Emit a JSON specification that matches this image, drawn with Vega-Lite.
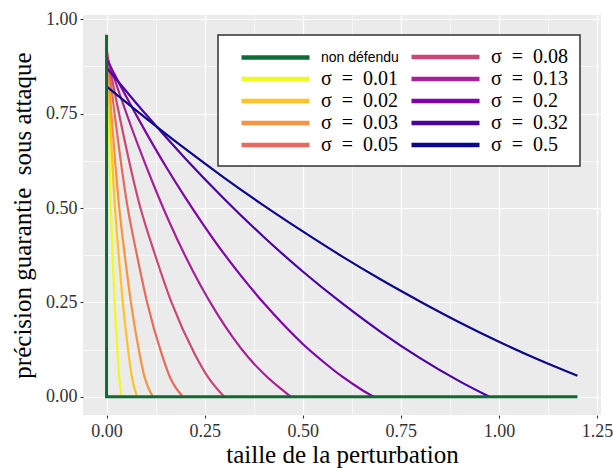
{
  "$schema": "https://vega.github.io/schema/vega-lite/v6.json",
  "width": 518,
  "height": 400,
  "autosize": {"type": "none"},
  "padding": {"left": 83, "top": 15, "right": 12, "bottom": 53},
  "background": "white",
  "config": {
    "view": {"fill": "#EBEBEB", "stroke": null},
    "axis": {
      "domain": false,
      "gridColor": "white",
      "tickColor": "#333333",
      "tickSize": 3,
      "tickWidth": 1.1,
      "labelFont": "Liberation Serif",
      "labelFontSize": 18,
      "labelColor": "#333333",
      "titleFont": "Liberation Serif",
      "titleFontSize": 25,
      "titleFontWeight": "normal",
      "titleColor": "black"
    }
  },
  "datasets": {
    "curves": [
      {"s": "σ = 0.01", "x": 0, "y": 0.94}, {"s": "σ = 0.01", "x": 0.0108, "y": 0.5}, {"s": "σ = 0.01", "x": 0.0155, "y": 0.375}, {"s": "σ = 0.01", "x": 0.0207, "y": 0.25}, {"s": "σ = 0.01", "x": 0.028, "y": 0.115}, {"s": "σ = 0.01", "x": 0.0325, "y": 0.05}, {"s": "σ = 0.01", "x": 0.038, "y": 0},
      {"s": "σ = 0.02", "x": 0, "y": 0.935}, {"s": "σ = 0.02", "x": 0.0216, "y": 0.5}, {"s": "σ = 0.02", "x": 0.031, "y": 0.375}, {"s": "σ = 0.02", "x": 0.0414, "y": 0.25}, {"s": "σ = 0.02", "x": 0.056, "y": 0.115}, {"s": "σ = 0.02", "x": 0.065, "y": 0.05}, {"s": "σ = 0.02", "x": 0.078, "y": 0},
      {"s": "σ = 0.03", "x": 0, "y": 0.93}, {"s": "σ = 0.03", "x": 0.0324, "y": 0.5}, {"s": "σ = 0.03", "x": 0.0465, "y": 0.375}, {"s": "σ = 0.03", "x": 0.0621, "y": 0.25}, {"s": "σ = 0.03", "x": 0.084, "y": 0.115}, {"s": "σ = 0.03", "x": 0.0975, "y": 0.05}, {"s": "σ = 0.03", "x": 0.118, "y": 0},
      {"s": "σ = 0.05", "x": 0, "y": 0.925}, {"s": "σ = 0.05", "x": 0.054, "y": 0.5}, {"s": "σ = 0.05", "x": 0.0775, "y": 0.375}, {"s": "σ = 0.05", "x": 0.1035, "y": 0.25}, {"s": "σ = 0.05", "x": 0.14, "y": 0.115}, {"s": "σ = 0.05", "x": 0.1625, "y": 0.05}, {"s": "σ = 0.05", "x": 0.195, "y": 0},
      {"s": "σ = 0.08", "x": 0, "y": 0.915}, {"s": "σ = 0.08", "x": 0.0864, "y": 0.5}, {"s": "σ = 0.08", "x": 0.124, "y": 0.375}, {"s": "σ = 0.08", "x": 0.1656, "y": 0.25}, {"s": "σ = 0.08", "x": 0.224, "y": 0.115}, {"s": "σ = 0.08", "x": 0.26, "y": 0.05}, {"s": "σ = 0.08", "x": 0.3, "y": 0},
      {"s": "σ = 0.13", "x": 0, "y": 0.905}, {"s": "σ = 0.13", "x": 0.04, "y": 0.782}, {"s": "σ = 0.13", "x": 0.08, "y": 0.667}, {"s": "σ = 0.13", "x": 0.12, "y": 0.561}, {"s": "σ = 0.13", "x": 0.16, "y": 0.463}, {"s": "σ = 0.13", "x": 0.2, "y": 0.374}, {"s": "σ = 0.13", "x": 0.24, "y": 0.294}, {"s": "σ = 0.13", "x": 0.28, "y": 0.223}, {"s": "σ = 0.13", "x": 0.32, "y": 0.16}, {"s": "σ = 0.13", "x": 0.36, "y": 0.106}, {"s": "σ = 0.13", "x": 0.4, "y": 0.062}, {"s": "σ = 0.13", "x": 0.44, "y": 0.025}, {"s": "σ = 0.13", "x": 0.47, "y": 0},
      {"s": "σ = 0.2", "x": 0, "y": 0.895}, {"s": "σ = 0.2", "x": 0.05, "y": 0.795}, {"s": "σ = 0.2", "x": 0.1, "y": 0.701}, {"s": "σ = 0.2", "x": 0.15, "y": 0.612}, {"s": "σ = 0.2", "x": 0.2, "y": 0.529}, {"s": "σ = 0.2", "x": 0.25, "y": 0.451}, {"s": "σ = 0.2", "x": 0.3, "y": 0.378}, {"s": "σ = 0.2", "x": 0.35, "y": 0.311}, {"s": "σ = 0.2", "x": 0.4, "y": 0.249}, {"s": "σ = 0.2", "x": 0.45, "y": 0.192}, {"s": "σ = 0.2", "x": 0.5, "y": 0.14}, {"s": "σ = 0.2", "x": 0.55, "y": 0.095}, {"s": "σ = 0.2", "x": 0.6, "y": 0.054}, {"s": "σ = 0.2", "x": 0.65, "y": 0.019}, {"s": "σ = 0.2", "x": 0.681, "y": 0},
      {"s": "σ = 0.32", "x": 0, "y": 0.872}, {"s": "σ = 0.32", "x": 0.1, "y": 0.748}, {"s": "σ = 0.32", "x": 0.2, "y": 0.632}, {"s": "σ = 0.32", "x": 0.3, "y": 0.524}, {"s": "σ = 0.32", "x": 0.4, "y": 0.424}, {"s": "σ = 0.32", "x": 0.5, "y": 0.332}, {"s": "σ = 0.32", "x": 0.6, "y": 0.248}, {"s": "σ = 0.32", "x": 0.7, "y": 0.171}, {"s": "σ = 0.32", "x": 0.8, "y": 0.102}, {"s": "σ = 0.32", "x": 0.9, "y": 0.041}, {"s": "σ = 0.32", "x": 0.976, "y": 0},
      {"s": "σ = 0.5", "x": 0, "y": 0.822}, {"s": "σ = 0.5", "x": 0.1, "y": 0.738}, {"s": "σ = 0.5", "x": 0.2, "y": 0.657}, {"s": "σ = 0.5", "x": 0.3, "y": 0.58}, {"s": "σ = 0.5", "x": 0.4, "y": 0.507}, {"s": "σ = 0.5", "x": 0.5, "y": 0.438}, {"s": "σ = 0.5", "x": 0.6, "y": 0.372}, {"s": "σ = 0.5", "x": 0.7, "y": 0.31}, {"s": "σ = 0.5", "x": 0.8, "y": 0.252}, {"s": "σ = 0.5", "x": 0.9, "y": 0.197}, {"s": "σ = 0.5", "x": 1.0, "y": 0.146}, {"s": "σ = 0.5", "x": 1.1, "y": 0.099}, {"s": "σ = 0.5", "x": 1.2, "y": 0.056}
    ],
    "base": [
      {"s": "non défendu", "i": 0, "x": 0, "y": 0.959},
      {"s": "non défendu", "i": 1, "x": 0, "y": 0},
      {"s": "non défendu", "i": 2, "x": 1.2, "y": 0}
    ]
  },
  "layer": [
    {
      "data": {"name": "base"},
      "mark": {"type": "line", "opacity": 0},
      "encoding": {
        "x": {"field": "x", "type": "quantitative", "scale": {"domain": [-0.06, 1.26], "nice": false, "zero": false},
              "axis": {"orient": "top", "values": [0.125, 0.375, 0.625, 0.875, 1.125], "grid": true, "gridWidth": 0.6, "labels": false, "ticks": false, "domain": false, "title": null}},
        "y": {"field": "y", "type": "quantitative", "scale": {"domain": [-0.048, 1.011], "nice": false, "zero": false},
              "axis": {"orient": "right", "values": [0.125, 0.375, 0.625, 0.875], "grid": true, "gridWidth": 0.6, "labels": false, "ticks": false, "domain": false, "title": null}}
      }
    },
    {
      "data": {"name": "curves"},
      "mark": {"type": "line", "strokeWidth": 2.2, "interpolate": "monotone"},
      "encoding": {
        "x": {"field": "x", "type": "quantitative", "scale": {"domain": [-0.06, 1.26], "nice": false, "zero": false},
              "axis": {"orient": "bottom", "values": [0, 0.25, 0.5, 0.75, 1, 1.25], "format": ".2f", "grid": true, "gridWidth": 1.2, "labelPadding": 4, "title": "taille de la perturbation", "titlePadding": 2}},
        "y": {"field": "y", "type": "quantitative", "scale": {"domain": [-0.048, 1.011], "nice": false, "zero": false},
              "axis": {"orient": "left", "values": [0, 0.25, 0.5, 0.75, 1], "format": ".2f", "grid": true, "gridWidth": 1.2, "labelPadding": 3, "title": "précision guarantie\u00a0 sous attaque", "titlePadding": 10}},
        "color": {
          "field": "s", "type": "nominal",
          "scale": {
            "domain": ["non défendu", "σ = 0.01", "σ = 0.02", "σ = 0.03", "σ = 0.05", "σ = 0.08", "σ = 0.13", "σ = 0.2", "σ = 0.32", "σ = 0.5"],
            "range": ["#0d6b35", "#F0F921", "#FDC328", "#F89441", "#E56B5D", "#CB4679", "#A82296", "#7E03A8", "#4C02A1", "#0D0887"]
          },
          "legend": {
            "orient": "none", "legendX": 135, "legendY": 20, "columns": 2, "title": null,
            "fillColor": "white", "strokeColor": "#333333", "padding": 11,
            "symbolType": "M-4,0H4", "symbolStrokeWidth": 4.5, "symbolSize": 289, "symbolOffset": 35.5,
            "labelFont": "Liberation Serif", "labelFontSize": 20, "labelColor": "black", "labelOffset": 34.5,
            "rowPadding": 1, "columnPadding": 0,
            "labelExpr": "datum.label == 'non défendu' ? datum.label : replace(datum.label, regexp(' ', 'g'), '\u2002')",
            "encode": {
              "legend": {"update": {"strokeWidth": {"value": 1.5}}},
              "labels": {"update": {
                "font": {"signal": "datum.label == 'non défendu' ? 'Liberation Sans' : 'Liberation Serif'"},
                "fontSize": {"signal": "datum.label == 'non défendu' ? 14 : 20"}
              }}
            }
          }
        }
      }
    },
    {
      "data": {"name": "base"},
      "mark": {"type": "line", "strokeWidth": 3},
      "encoding": {
        "x": {"field": "x", "type": "quantitative", "scale": {"domain": [-0.06, 1.26], "nice": false, "zero": false}, "axis": null},
        "y": {"field": "y", "type": "quantitative", "scale": {"domain": [-0.048, 1.011], "nice": false, "zero": false}, "axis": null},
        "order": {"field": "i", "type": "quantitative"},
        "color": {"field": "s", "type": "nominal"}
      }
    }
  ],
  "resolve": {"axis": {"x": "independent", "y": "independent"}}
}
